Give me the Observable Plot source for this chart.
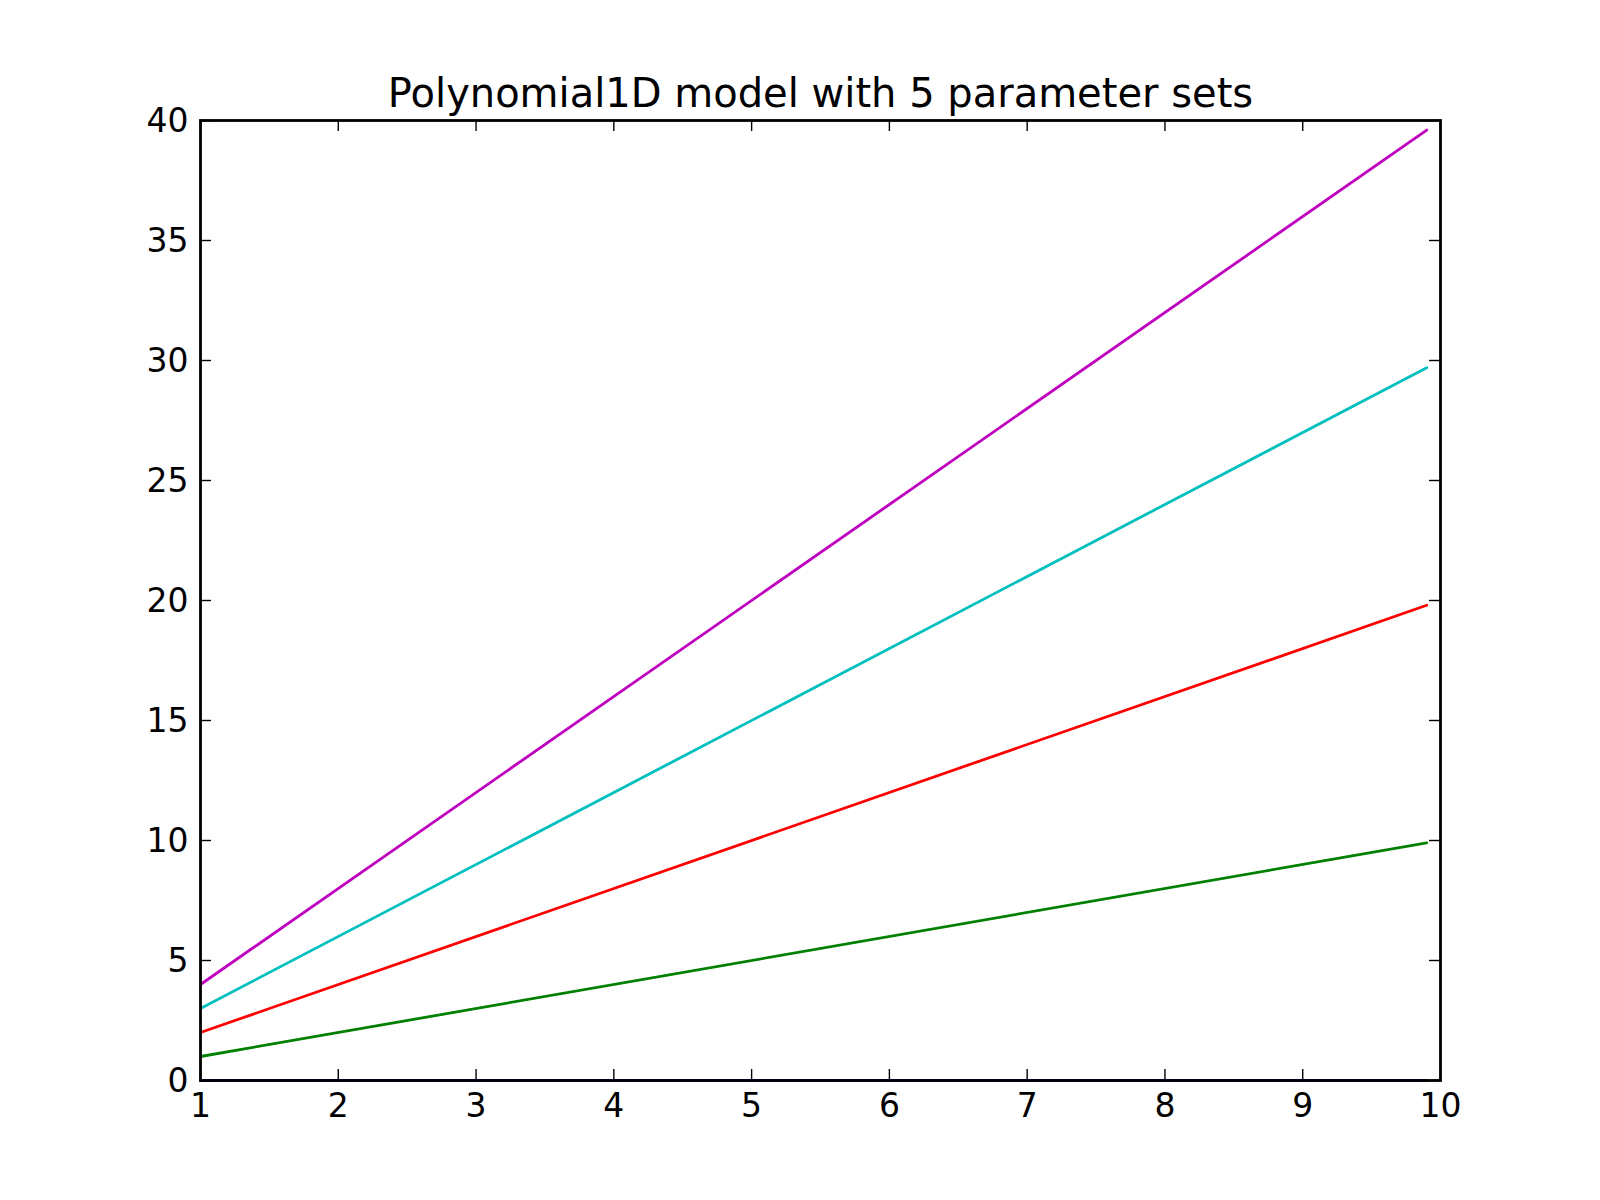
<!DOCTYPE html>
<html>
<head>
<meta charset="utf-8">
<script src="https://cdn.jsdelivr.net/npm/d3@7"></script>
<script src="https://cdn.jsdelivr.net/npm/@observablehq/plot@0.6"></script>
<style>
  html, body { margin: 0; padding: 0; background: #fff; }
  #chart svg { display: block; }
</style>
</head>
<body>
<div id="chart"></div>
<script>
// Data
const titleText = "Polynomial1D model with 5 parameter sets";
const xValues = [1, 9.9];
const seriesNames = ["b", "g", "r", "c", "m"];
const seriesColors = ["#0000ff", "#008000", "#ff0000", "#00bfbf", "#bf00bf"];
const blueY = [0, 0];
const greenY = [1, 9.9];
const redY = [2, 19.8];
const cyanY = [3, 29.7];
const magentaY = [4, 39.6];
const xTicks = [1, 2, 3, 4, 5, 6, 7, 8, 9, 10];
const yTicks = [0, 5, 10, 15, 20, 25, 30, 35, 40];

const allY = [blueY, greenY, redY, cyanY, magentaY];
const rows = [];
seriesNames.forEach((s, i) => {
  xValues.forEach((x, j) => rows.push({series: s, x, y: allY[i][j]}));
});

const W = 1600, H = 1200;
const mL = 200, mR = 160, mT = 120, mB = 120;
const fw = W - mL - mR, fh = H - mT - mB;
const tl = 11;

const chart = Plot.plot({
  width: W,
  height: H,
  marginLeft: mL,
  marginRight: mR,
  marginTop: mT,
  marginBottom: mB,
  style: {fontFamily: "DejaVu Sans", fontSize: "33px", background: "white", color: "black"},
  x: {domain: [1, 10], axis: null, label: null},
  y: {domain: [0, 40], axis: null, label: null},
  color: {domain: seriesNames, range: seriesColors},
  marks: [
    Plot.line(rows, {x: "x", y: "y", z: "series", stroke: "series", strokeWidth: 2.8}),
    // inward ticks on all four sides
    Plot.tickX(xTicks, {x: d => d, insetTop: fh - tl, stroke: "black", strokeWidth: 1.4}),
    Plot.tickX(xTicks, {x: d => d, insetBottom: fh - tl, stroke: "black", strokeWidth: 1.4}),
    Plot.tickY(yTicks, {y: d => d, insetRight: fw - tl, stroke: "black", strokeWidth: 1.4}),
    Plot.tickY(yTicks, {y: d => d, insetLeft: fw - tl, stroke: "black", strokeWidth: 1.4}),
    Plot.frame({stroke: "black", strokeWidth: 2.8}),
    Plot.axisX(xTicks, {anchor: "bottom", label: null, tickSize: 0, tickPadding: 13, fontSize: 33, tickFormat: d => String(d)}),
    Plot.axisY(yTicks, {anchor: "left", label: null, tickSize: 0, tickPadding: 12, fontSize: 33, dy: 1, tickFormat: d => String(d)}),
    Plot.text([titleText], {frameAnchor: "top", text: d => d, dy: -14, lineAnchor: "bottom", fontSize: 40, fill: "black"})
  ]
});
document.getElementById("chart").appendChild(chart);
</script>
</body>
</html>
